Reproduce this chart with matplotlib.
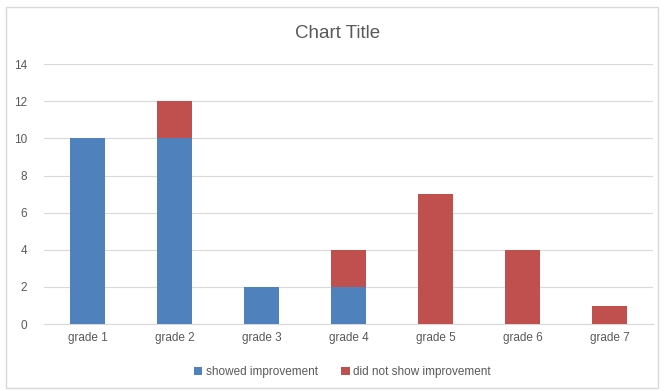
import matplotlib.pyplot as plt
import numpy as np
from matplotlib.patches import Rectangle

grades = ['grade 1', 'grade 2', 'grade 3', 'grade 4', 'grade 5', 'grade 6', 'grade 7']
showed = np.array([10, 10, 2, 2, 0, 0, 0])
not_showed = np.array([0, 2, 0, 2, 7, 4, 1])

plt.rcParams['font.family'] = ['Liberation Sans', 'DejaVu Sans']

fig = plt.figure(figsize=(6.65, 3.91), dpi=100)
ax = fig.add_axes([0.066, 0.171, 0.916, 0.665])

x = np.arange(len(grades))
ax.bar(x, showed, width=0.4, color='#4F81BD', label='showed improvement', zorder=3)
ax.bar(x, not_showed, width=0.4, bottom=showed, color='#C0504D',
       label='did not show improvement', zorder=3)

ax.set_xlim(-0.5, len(grades) - 0.5)
ax.set_ylim(0, 14)
ax.set_yticks(np.arange(0, 15, 2))
ax.set_xticks(x)
ax.set_xticklabels(grades)
ax.grid(axis='y', color='#d9d9d9', linewidth=0.8, zorder=0)
for s in ['top', 'right', 'left']:
    ax.spines[s].set_visible(False)
ax.spines['bottom'].set_color('#d9d9d9')
ax.tick_params(axis='x', length=0, labelsize=8.5, colors='#595959', pad=6)
ax.tick_params(axis='y', length=0, labelsize=8.5, colors='#595959', pad=12)

fig.text(0.508, 0.915, 'Chart Title', ha='center', va='center', fontsize=13.5, color='#595959')

fig.legend(loc='center', bbox_to_anchor=(0.515, 0.049), ncol=2, frameon=False,
           fontsize=8.5, labelcolor='#595959', handlelength=0.7, handleheight=0.7,
           handletextpad=0.3, columnspacing=2.0)

fig.patches.append(Rectangle((0.009, 0.008), 0.98, 0.975, transform=fig.transFigure,
                             fill=False, edgecolor='#d9d9d9', linewidth=1))

fig.savefig('out.png', dpi=100)
